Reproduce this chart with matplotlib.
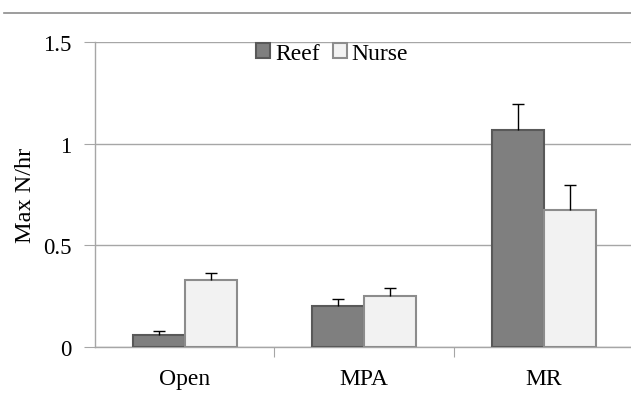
import matplotlib
matplotlib.use("Agg")
import matplotlib.pyplot as plt
import numpy as np
from matplotlib.lines import Line2D

plt.rcParams["font.family"] = ["Liberation Serif", "DejaVu Serif"]

sites = ["Open", "MPA", "MR"]
reef = [0.06, 0.20, 1.065]
reef_err = [0.02, 0.035, 0.13]
nurse = [0.33, 0.25, 0.675]
nurse_err = [0.035, 0.04, 0.12]

fig = plt.figure(figsize=(6.31, 4.02), dpi=100)
ax = fig.add_axes([95 / 631, 54 / 402, 538.5 / 631, 305 / 402])

x = np.arange(len(sites))
w = 0.29
cap = 0.034
grid_c = "#a6a6a6"

ax.bar(x - w / 2, reef, w, color="#7f7f7f", edgecolor="#595959", linewidth=1.5,
       label="Reef", zorder=3)
ax.bar(x + w / 2, nurse, w, color="#f2f2f2", edgecolor="#8c8c8c", linewidth=1.5,
       label="Nurse", zorder=3)

# upper error bars only
for xs, vals, errs in [(x - w / 2, reef, reef_err), (x + w / 2, nurse, nurse_err)]:
    tops = np.array(vals) + np.array(errs)
    ax.vlines(xs, vals, tops, color="black", linewidth=1, zorder=4)
    ax.hlines(tops, xs - cap, xs + cap, color="black", linewidth=1, zorder=4)

ax.set_xlim(-0.5, 2.5)
ax.set_ylim(0, 1.5)
ax.set_yticks([0, 0.5, 1, 1.5])
ax.set_yticklabels(["0", "0.5", "1", "1.5"])
ax.yaxis.grid(True, color=grid_c, linewidth=1, zorder=0)
ax.set_axisbelow(True)

ax.set_xticks([0.5, 1.5])
ax.set_xticklabels([])
ax.set_xticks(x, minor=True)
ax.set_xticklabels(sites, minor=True)
ax.tick_params(axis="x", which="major", length=7, color=grid_c, direction="out")
ax.tick_params(axis="x", which="minor", length=0, pad=15, labelsize=17)
ax.tick_params(axis="y", length=8, color=grid_c, labelsize=16.5, pad=9)

for s in ["top", "right"]:
    ax.spines[s].set_visible(False)
for s in ["left", "bottom"]:
    ax.spines[s].set_color(grid_c)
    ax.spines[s].set_linewidth(1)

ax.set_ylabel("Max N/hr", fontsize=17.5, labelpad=5)

ax.legend(loc="upper left", bbox_to_anchor=(161 / 538.5, 0.997),
          frameon=False, ncol=2, fontsize=17, handlelength=0.6,
          handleheight=0.6, handletextpad=0.2, columnspacing=0.55,
          borderaxespad=0, borderpad=0)

fig.add_artist(Line2D([4 / 631, 1], [1 - 14 / 402, 1 - 14 / 402],
                      color="#8c8c8c", linewidth=1.2))

fig.savefig("out.png", dpi=100)
